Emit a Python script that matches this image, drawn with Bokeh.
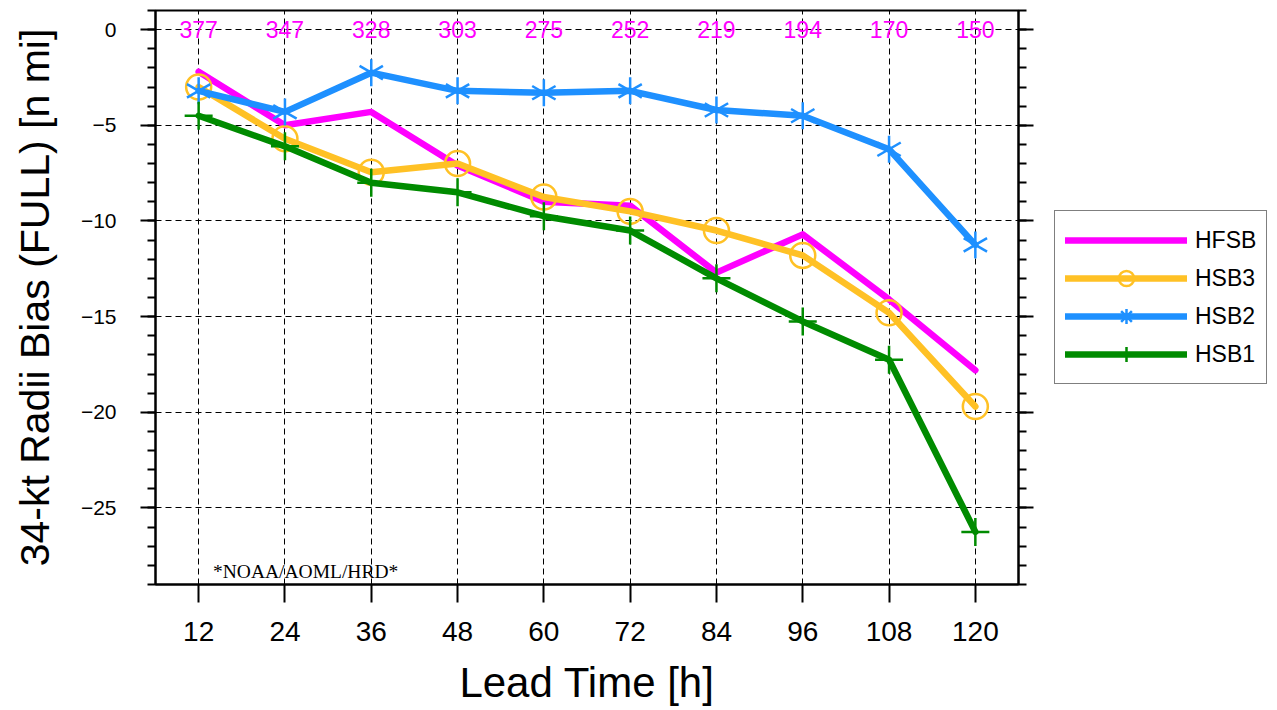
from bokeh.plotting import figure
from bokeh.models import (Range1d, FixedTicker, LinearAxis, Legend, LegendItem, Label,
                          ColumnDataSource)
from bokeh.layouts import row
from bokeh.core.properties import value
from bokeh.embed import file_html
from bokeh.resources import INLINE
import math

lead_times = [12, 24, 36, 48, 60, 72, 84, 96, 108, 120]
counts = ["377", "347", "328", "303", "275", "252", "219", "194", "170", "150"]
hfsb = [-2.2, -5.0, -4.3, -7.1, -9.0, -9.2, -12.7, -10.7, -14.1, -17.8]
hsb3 = [-3.0, -5.7, -7.45, -7.0, -8.75, -9.5, -10.5, -11.8, -14.8, -19.7]
hsb2 = [-3.2, -4.3, -2.25, -3.2, -3.3, -3.2, -4.2, -4.5, -6.25, -11.25]
hsb1 = [-4.5, -6.1, -8.0, -8.5, -9.75, -10.5, -13.0, -15.25, -17.25, -26.25]
y_major = [0, -5, -10, -15, -20, -25]
y_minor = list(range(1, -30, -1))
series_names = ["HFSB", "HSB3", "HSB2", "HSB1"]

FONT = "Liberation Sans"
MAGENTA = "#FF00FF"
ORANGE = "#FFC125"
BLUE = "#1E90FF"
GREEN = "#008B00"
H = 708

p = figure(width=1040, height=H, output_backend="svg", toolbar_location=None,
           x_range=Range1d(6, 126), y_range=Range1d(-29, 1),
           min_border_left=155, min_border_right=22, min_border_top=10, min_border_bottom=123,
           x_axis_label="Lead Time [h]", y_axis_label="34-kt Radii Bias (FULL) [n mi]")
p.background_fill_color = "white"
p.border_fill_color = "white"
p.outline_line_color = "black"
p.outline_line_width = 2

# axes
xa = p.xaxis[0]
xa.ticker = FixedTicker(ticks=lead_times, minor_ticks=[])
ya = p.yaxis[0]
ya.ticker = FixedTicker(ticks=y_major, minor_ticks=y_minor)
for ax in (xa, ya):
    ax.axis_line_width = 2
    ax.major_tick_line_width = 2
    ax.minor_tick_line_width = 2
    ax.major_tick_in = 0
    ax.minor_tick_in = 0
    ax.major_label_text_font = FONT
    ax.major_label_text_color = "black"
    ax.axis_label_text_font = FONT
    ax.axis_label_text_font_style = "normal"
    ax.axis_label_text_color = "black"
xa.major_label_text_font_size = "28px"
ya.major_label_text_font_size = "21px"
xa.axis_label_text_font_size = "42px"
ya.axis_label_text_font_size = "41px"
xa.major_tick_out = 18
xa.minor_tick_out = 0
xa.major_label_standoff = 19
xa.axis_label_standoff = 15
ya.major_tick_out = 15
ya.minor_tick_out = 8
ya.major_label_standoff = 24
ya.axis_label_standoff = 20

ra = LinearAxis(ticker=FixedTicker(ticks=y_major, minor_ticks=y_minor))
ra.axis_line_width = 2
ra.major_tick_line_width = 2
ra.minor_tick_line_width = 2
ra.major_tick_in = 0
ra.minor_tick_in = 0
ra.major_tick_out = 15
ra.minor_tick_out = 8
ra.major_label_standoff = 0
ra.major_label_overrides = {t: "" for t in y_major}
ra.major_label_text_font_size = "1px"
p.add_layout(ra, "right")

# grid
p.xgrid.ticker = FixedTicker(ticks=lead_times)
p.ygrid.ticker = FixedTicker(ticks=y_major)
for g in (p.xgrid[0], p.ygrid[0]):
    g.grid_line_color = "black"
    g.grid_line_width = 1
    g.grid_line_dash = "6 4"

# series
src = ColumnDataSource(dict(x=lead_times, hfsb=hfsb, hsb3=hsb3, hsb2=hsb2, hsb1=hsb1,
                            zero=[0] * len(lead_times), counts=counts))

LW = 6.5


def draw_series(fig, legend_mode=False):
    rs = []
    r = fig.line("x", "hfsb", source=src, color=MAGENTA, line_width=LW, line_join="round", line_cap="round")
    rs.append([r])
    r = fig.line("x", "hsb3", source=src, color=ORANGE, line_width=LW, line_join="round", line_cap="round")
    m = fig.scatter("x", "hsb3", source=src, marker="circle", size=25, fill_color=None,
                    line_color=ORANGE, line_width=2.5)
    rs.append([r, m])
    r = fig.line("x", "hsb2", source=src, color=BLUE, line_width=LW, line_join="round", line_cap="round")
    if legend_mode:
        ms = [fig.scatter("x", "hsb2", source=src, marker="asterisk", size=27,
                          line_color=BLUE, line_width=2.5)]
    else:
        ms = [fig.scatter("x", "hsb2", source=src, marker="dash", size=27, angle=math.radians(a),
                          line_color=BLUE, line_width=2.5) for a in (90, 30, -30)]
    rs.append([r] + ms)
    r = fig.line("x", "hsb1", source=src, color=GREEN, line_width=LW, line_join="round", line_cap="round")
    m = fig.scatter("x", "hsb1", source=src, marker="cross", size=28, line_color=GREEN, line_width=2.5)
    rs.append([r, m])
    return rs


draw_series(p)

# counts along the zero line
p.text("x", "zero", text="counts", source=src, text_color=MAGENTA, text_align="center",
       text_baseline="middle", text_font=value(FONT), text_font_size="23px")

p.add_layout(Label(x=14.0, y=-28.3, text="*NOAA/AOML/HRD*", text_font="Liberation Serif",
                   text_font_size="19.5px", text_color="black", text_align="left",
                   text_baseline="middle"))

# legend panel (separate figure; its glyphs lie outside its view)
lg = figure(width=230, height=H, output_backend="svg", toolbar_location=None,
            x_range=Range1d(0, 1), y_range=Range1d(0, 1), x_axis_type=None, y_axis_type=None,
            min_border=0)
lg.outline_line_color = None
lg.grid.visible = False
lg.background_fill_color = "white"
lg.border_fill_color = "white"
leg_rs = draw_series(lg, legend_mode=True)

legend = Legend(items=[LegendItem(label=n, renderers=r) for n, r in zip(series_names, leg_rs)],
                location="center_left")
legend.glyph_width = 122
legend.glyph_height = 38
legend.spacing = 0
legend.padding = 10
legend.margin = 14
legend.label_standoff = 8
legend.label_text_font = FONT
legend.label_text_font_size = "23px"
legend.label_text_color = "black"
legend.border_line_color = "black"
legend.border_line_width = 1
legend.background_fill_color = "white"
legend.background_fill_alpha = 1
lg.add_layout(legend, "center")

layout = row(p, lg, spacing=0)
open("out.html", "w").write(file_html(layout, INLINE))
